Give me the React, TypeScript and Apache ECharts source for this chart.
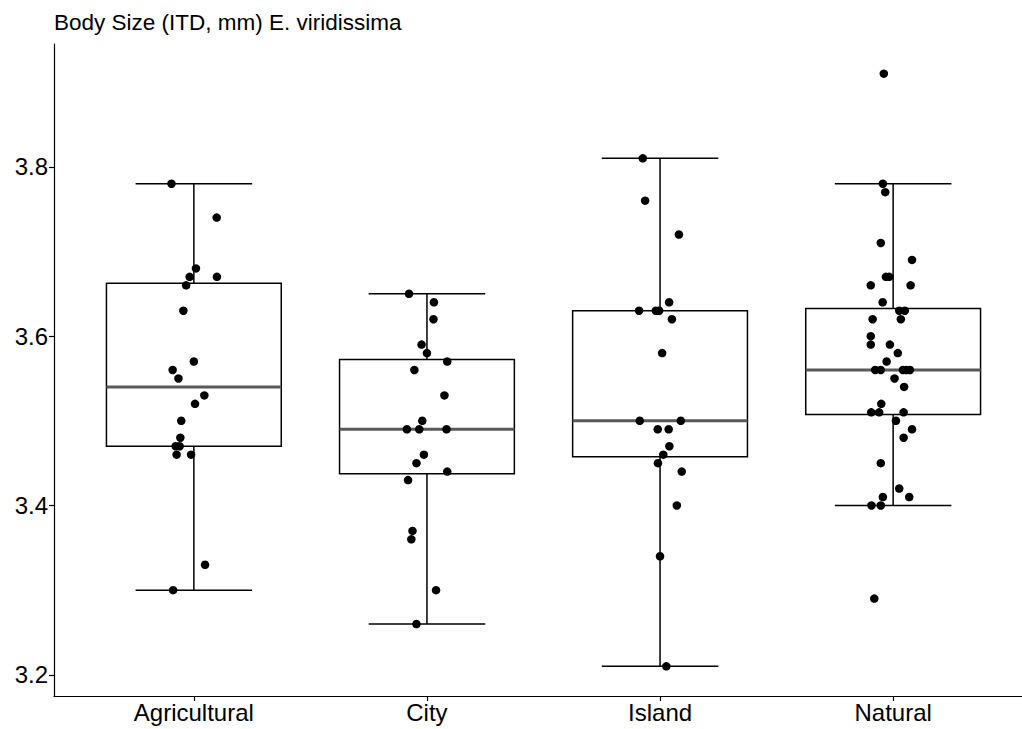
import React, { useEffect, useRef } from "react";
import * as echarts from "echarts";

const categories = ["Agricultural", "City", "Island", "Natural"];

// Body size values (ITD, mm) per site type
const agriculturalValues = [3.78, 3.74, 3.68, 3.67, 3.67, 3.66, 3.63, 3.57, 3.56, 3.55, 3.53, 3.52, 3.5, 3.48, 3.47, 3.47, 3.46, 3.46, 3.33, 3.3];
const agriculturalJitter = [-0.096, 0.098, 0.009, -0.018, 0.099, -0.033, -0.045, 0.0, -0.091, -0.066, 0.045, 0.005, -0.054, -0.058, -0.078, -0.061, -0.074, -0.012, 0.048, -0.089];

const cityValues = [3.65, 3.64, 3.62, 3.59, 3.58, 3.57, 3.56, 3.53, 3.5, 3.49, 3.49, 3.49, 3.46, 3.45, 3.44, 3.43, 3.37, 3.36, 3.3, 3.26];
const cityJitter = [-0.077, 0.03, 0.028, -0.023, 0.0, 0.087, -0.054, 0.075, -0.02, -0.086, -0.033, 0.084, -0.013, -0.045, 0.087, -0.081, -0.062, -0.067, 0.039, -0.045];

const islandValues = [3.81, 3.76, 3.72, 3.64, 3.63, 3.63, 3.63, 3.62, 3.58, 3.5, 3.5, 3.49, 3.49, 3.47, 3.46, 3.45, 3.44, 3.4, 3.34, 3.21];
const islandJitter = [-0.074, -0.064, 0.081, 0.039, -0.09, -0.018, -0.004, 0.051, 0.009, -0.087, 0.089, -0.01, 0.037, 0.04, 0.014, -0.009, 0.093, 0.072, 0.0, 0.027];

const naturalValues = [3.91, 3.78, 3.77, 3.71, 3.69, 3.67, 3.67, 3.66, 3.66, 3.64, 3.63, 3.63, 3.62, 3.62, 3.6, 3.59, 3.59, 3.58, 3.57, 3.56, 3.56, 3.56, 3.56, 3.56, 3.55, 3.54, 3.52, 3.51, 3.51, 3.51, 3.5, 3.49, 3.48, 3.45, 3.42, 3.41, 3.41, 3.4, 3.4, 3.29];
const naturalJitter = [-0.04, -0.044, -0.034, -0.053, 0.081, -0.031, -0.017, -0.096, 0.075, -0.045, 0.026, 0.05, -0.088, 0.033, -0.096, -0.096, -0.014, 0.02, -0.028, -0.077, -0.053, 0.042, 0.057, 0.072, 0.006, 0.047, -0.051, -0.094, -0.06, 0.045, 0.012, 0.081, 0.045, -0.053, 0.026, -0.044, 0.069, -0.093, -0.053, -0.081];

const groupValues = [agriculturalValues, cityValues, islandValues, naturalValues];
const groupJitter = [agriculturalJitter, cityJitter, islandJitter, naturalJitter];

const yTicks = [3.2, 3.4, 3.6, 3.8];
const titleText = "Body Size (ITD, mm) E. viridissima";

function quantile(sorted: number[], p: number): number {
  const pos = (sorted.length - 1) * p;
  const lo = Math.floor(pos);
  const hi = Math.ceil(pos);
  return sorted[lo] + (sorted[hi] - sorted[lo]) * (pos - lo);
}

function boxStats(vals: number[]) {
  const s = [...vals].sort((a, b) => a - b);
  const q1 = quantile(s, 0.25);
  const med = quantile(s, 0.5);
  const q3 = quantile(s, 0.75);
  const iqr = q3 - q1;
  const lo = Math.min(...s.filter((v) => v >= q1 - 1.5 * iqr - 1e-9));
  const hi = Math.max(...s.filter((v) => v <= q3 + 1.5 * iqr + 1e-9));
  return [lo, q1, med, q3, hi];
}

export default function App() {
  const ref = useRef<HTMLDivElement>(null);

  useEffect(() => {
    if (!ref.current) return;
    const chart = echarts.init(ref.current, undefined, { renderer: "svg" });

    const boxData = groupValues.map((vals, i) => [i, ...boxStats(vals)]);
    const pointData: number[][] = [];
    groupValues.forEach((vals, i) => {
      vals.forEach((v, j) => pointData.push([i + groupJitter[i][j], v]));
    });

    const font = "'Liberation Sans', Arial, Helvetica, sans-serif";

    chart.setOption({
      animation: false,
      backgroundColor: "#ffffff",
      title: {
        text: titleText,
        left: 49,
        top: 6,
        textStyle: { fontFamily: font, fontSize: 22.5, fontWeight: "normal", color: "#000" },
      },
      grid: {
        left: 54,
        right: -11,
        top: 44,
        bottom: 33,
        containLabel: false,
        outerBoundsMode: "none",
      },
      xAxis: {
        type: "value",
        min: -0.6,
        max: 3.6,
        splitLine: { show: false },
        axisLine: { show: true, onZero: false, lineStyle: { color: "#000", width: 1.2 } },
        axisTick: { show: true, length: 5, customValues: [0, 1, 2, 3], lineStyle: { color: "#000", width: 1.2 } },
        axisLabel: {
          customValues: [0, 1, 2, 3],
          formatter: (v: number) => categories[Math.round(v)] ?? "",
          color: "#000",
          fontSize: 24,
          fontFamily: font,
          margin: 4,
        },
      },
      yAxis: {
        type: "value",
        min: 3.175,
        max: 3.945,
        splitLine: { show: false },
        axisLine: { show: true, onZero: false, lineStyle: { color: "#000", width: 1.2 } },
        axisTick: { show: true, length: 5, customValues: yTicks, lineStyle: { color: "#000", width: 1.2 } },
        axisLabel: {
          customValues: yTicks,
          formatter: (v: number) => v.toFixed(1),
          color: "#000",
          fontSize: 24,
          fontFamily: font,
          margin: 6,
        },
      },
      series: [
        {
          type: "custom",
          data: boxData,
          encode: { x: 0, y: [1, 2, 3, 4, 5] },
          z: 2,
          renderItem: (params: any, api: any) => {
            const x = api.value(0);
            const lo = api.coord([x, api.value(1)]);
            const q1 = api.coord([x, api.value(2)]);
            const med = api.coord([x, api.value(3)]);
            const q3 = api.coord([x, api.value(4)]);
            const hi = api.coord([x, api.value(5)]);
            const unit = api.size([1, 0])[0];
            const cx = lo[0];
            const boxHalf = unit * 0.375;
            const capHalf = unit * 0.25;
            const black = { stroke: "#000", lineWidth: 1.5, fill: "none" };
            return {
              type: "group",
              children: [
                { type: "line", shape: { x1: cx, y1: lo[1], x2: cx, y2: hi[1] }, style: black },
                { type: "line", shape: { x1: cx - capHalf, y1: lo[1], x2: cx + capHalf, y2: lo[1] }, style: black },
                { type: "line", shape: { x1: cx - capHalf, y1: hi[1], x2: cx + capHalf, y2: hi[1] }, style: black },
                {
                  type: "rect",
                  shape: { x: cx - boxHalf, y: q3[1], width: boxHalf * 2, height: q1[1] - q3[1] },
                  style: { fill: "#fff", stroke: "#000", lineWidth: 1.5 },
                },
                {
                  type: "line",
                  shape: { x1: cx - boxHalf, y1: med[1], x2: cx + boxHalf, y2: med[1] },
                  style: { stroke: "#595959", lineWidth: 3 },
                },
              ],
            };
          },
        },
        {
          type: "scatter",
          data: pointData,
          symbol: "circle",
          symbolSize: 8.5,
          itemStyle: { color: "#000", opacity: 1 },
          z: 5,
        },
      ],
    });

    return () => chart.dispose();
  }, []);

  return (
    <div
      ref={ref}
      style={{ position: "fixed", left: 0, top: 0, width: 1022, height: 729, background: "#fff" }}
    />
  );
}
